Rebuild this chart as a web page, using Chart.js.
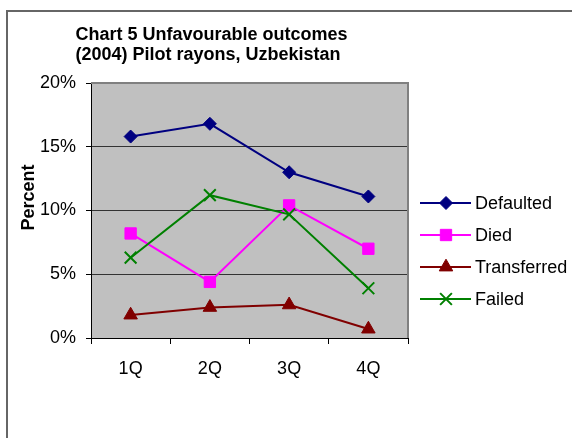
<!DOCTYPE html>
<html><head><meta charset="utf-8">
<script src="https://cdn.jsdelivr.net/npm/chart.js@4/dist/chart.umd.min.js"></script>
<style>html,body{margin:0;padding:0;background:#fff}canvas{display:block}</style>
</head><body>
<canvas id="c" width="572" height="438"></canvas>
<script>
// Chart text
const titleLines = ['Chart 5 Unfavourable outcomes', '(2004) Pilot rayons, Uzbekistan'];
const yAxisTitle = 'Percent';

// Categories and series (percent of cases)
const quarters = ['1Q', '2Q', '3Q', '4Q'];
const defaulted = [15.8, 16.8, 13.0, 11.1];
const died = [8.2, 4.4, 10.4, 7.0];
const transferred = [1.8, 2.4, 2.6, 0.7];
const failed = [6.3, 11.2, 9.7, 3.9];
const seriesNames = ['Defaulted', 'Died', 'Transferred', 'Failed'];

// Value axis ticks
const yTicks = [0, 5, 10, 15, 20];

const FONT = '"Liberation Sans", Arial, Helvetica, sans-serif';
Chart.defaults.font.family = FONT;
Chart.defaults.font.size = 18;
Chart.defaults.color = '#000';

function series(label, data, color, style, radius, bw, order) {
  return {
    label, data, order,
    borderColor: color, backgroundColor: color,
    borderWidth: 2, tension: 0,
    pointStyle: style, pointRadius: radius, pointHoverRadius: radius,
    pointBackgroundColor: color, pointBorderColor: color, pointBorderWidth: bw
  };
}

const framePlugin = {
  id: 'frame',
  beforeDraw(chart) {
    const ctx = chart.ctx;
    ctx.save();
    ctx.fillStyle = '#fff';
    ctx.fillRect(0, 0, chart.width, chart.height);
    // outer chart border
    ctx.strokeStyle = '#666';
    ctx.lineWidth = 2;
    ctx.strokeRect(7, 11, chart.width + 20, chart.height + 20);
    // plot area fill
    const a = chart.chartArea;
    ctx.fillStyle = '#C0C0C0';
    ctx.fillRect(a.left, a.top, a.right - a.left, a.bottom - a.top);
    ctx.restore();
  },
  afterDraw(chart) {
    const ctx = chart.ctx;
    const a = chart.chartArea;
    ctx.save();
    // plot area border on top and right
    ctx.strokeStyle = '#808080';
    ctx.lineWidth = 2;
    ctx.beginPath();
    ctx.moveTo(a.left, a.top);
    ctx.lineTo(a.right, a.top);
    ctx.lineTo(a.right, a.bottom);
    ctx.stroke();

    // title
    ctx.fillStyle = '#000';
    ctx.font = 'bold 18px ' + FONT;
    ctx.textAlign = 'left';
    ctx.textBaseline = 'alphabetic';
    titleLines.forEach((t, i) => ctx.fillText(t, 75.5, 40 + i * 20));

    // value axis title
    ctx.save();
    ctx.textAlign = 'center';
    ctx.translate(33.5, 197.5);
    ctx.rotate(-Math.PI / 2);
    ctx.fillText(yAxisTitle, 0, 0);
    ctx.restore();

    // legend
    chart.data.datasets.forEach((ds, i) => {
      const y = 203 + i * 32;
      ctx.strokeStyle = ds.borderColor;
      ctx.lineWidth = ds.borderWidth;
      ctx.beginPath();
      ctx.moveTo(420, y);
      ctx.lineTo(471, y);
      ctx.stroke();
      ctx.fillStyle = ds.pointBackgroundColor;
      ctx.strokeStyle = ds.pointBorderColor;
      ctx.lineWidth = ds.pointBorderWidth;
      Chart.helpers.drawPoint(ctx, {
        pointStyle: ds.pointStyle, radius: ds.pointRadius,
        rotation: 0, borderWidth: ds.pointBorderWidth
      }, 446, y);
      ctx.fillStyle = '#000';
      ctx.font = '18px ' + FONT;
      ctx.textAlign = 'left';
      ctx.fillText(ds.label, 475, y + 6);
    });
    ctx.restore();
  }
};

new Chart(document.getElementById('c'), {
  type: 'line',
  data: {
    labels: quarters,
    datasets: [
      series(seriesNames[0], defaulted, '#000080', 'rectRot', 6.5, 1, 4),
      series(seriesNames[1], died, '#FF00FF', 'rect', 8, 1, 3),
      series(seriesNames[2], transferred, '#800000', 'triangle', 7.8, 1, 2),
      series(seriesNames[3], failed, '#008000', 'crossRot', 8.3, 2, 1)
    ]
  },
  options: {
    responsive: false,
    animation: false,
    events: [],
    clip: false,
    layout: { padding: { left: 0, top: 83, right: 164, bottom: 0 } },
    plugins: { legend: { display: false }, title: { display: false }, tooltip: { enabled: false } },
    scales: {
      x: {
        type: 'category',
        offset: true,
        grid: { offset: true, drawOnChartArea: false, drawTicks: true, tickLength: 6, color: '#000', tickColor: '#000' },
        border: { color: '#000', width: 1 },
        ticks: { padding: 14, maxRotation: 0, font: { size: 18 } },
        afterFit(s) { s.height = 100; }
      },
      y: {
        min: 0, max: 20,
        afterBuildTicks(s) { s.ticks = yTicks.map(v => ({ value: v })); },
        grid: {
          drawTicks: true, tickLength: 5,
          color: c => (c.tick && c.tick.value === 20) ? 'rgba(0,0,0,0)' : '#333',
          tickColor: '#000'
        },
        border: { color: '#000', width: 1 },
        ticks: { padding: 10, callback: v => v + '%', font: { size: 18 } },
        afterFit(s) { s.width = 91; }
      }
    }
  },
  plugins: [framePlugin]
});
</script>
</body></html>
